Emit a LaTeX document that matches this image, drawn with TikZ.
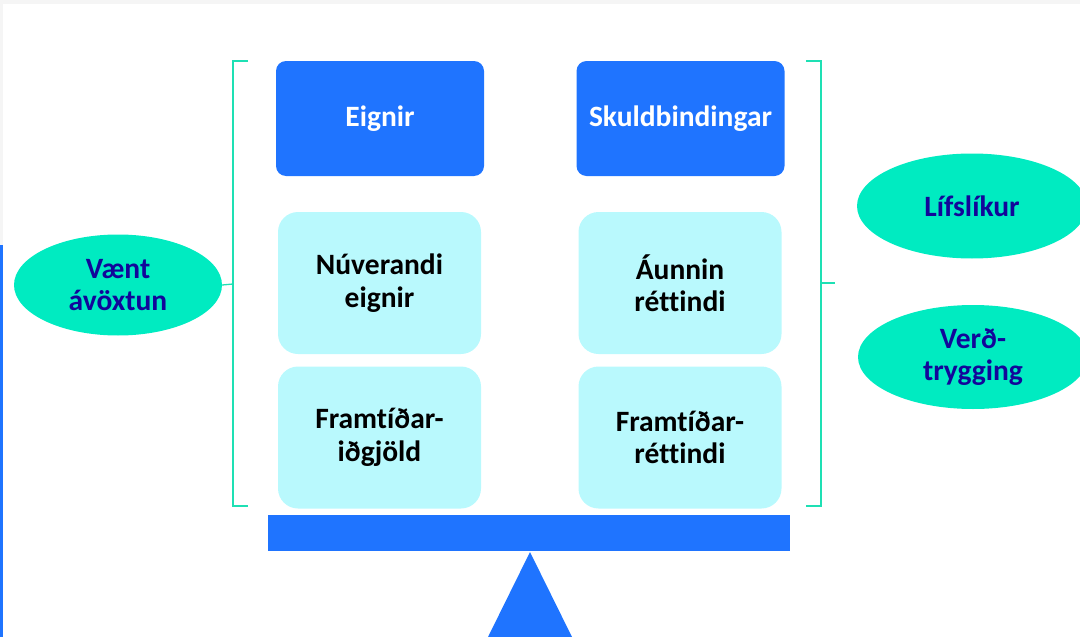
\documentclass[tikz,border=0pt]{standalone}
\usepackage{fontspec}
\setmainfont{Carlito}[Ligatures=NoCommon]
\usepackage{tikz}
\usetikzlibrary{shapes.geometric}

\definecolor{darkbox}{HTML}{1F74FF}
\definecolor{lightbox}{HTML}{B9F9FD}
\definecolor{tealfill}{HTML}{00EBC1}
\definecolor{navytext}{HTML}{12069A}
\definecolor{braceline}{HTML}{1EE0B4}

\begin{document}
\begin{tikzpicture}[x=1pt, y=-1pt,
			head node/.style={rectangle,rounded corners=10pt,fill=darkbox,text=white,minimum width=208pt,minimum height=115pt,align=center,font=\fontsize{29.5}{32.5}\selectfont\bfseries},
			part node/.style={rectangle,rounded corners=20pt,fill=lightbox,text=black,minimum width=203pt,minimum height=142pt,align=center,font=\fontsize{29.5}{32.5}\selectfont\bfseries},
			oval node/.style={ellipse,fill=tealfill,text=navytext,inner sep=0pt,align=center,font=\fontsize{29.5}{32.5}\selectfont\bfseries},
			brace/.style={draw=braceline,line width=1.3pt}]
			
			\useasboundingbox (0,0) rectangle (1080,637);
			\fill[black!4] (0,0) rectangle (1080,4);
			\fill[black!4] (0,0) rectangle (3,245);
			\fill[darkbox] (0,245) rectangle (3,637);
			
			\node[head node] (eignir) at (380,118.5) {Eignir};
			\node[head node] (skuld) at (680.5,118.5) {Skuldbindingar};
			\node[part node] (nuv) at (379.5,283) {Núverandi\\eignir};
			\node[part node] (aunn) at (680,283) {Áunnin\\réttindi};
			\node[part node] (fidg) at (379.5,437.5) {Framtíðar-\\iðgjöld};
			\node[part node] (fret) at (680,437.5) {Framtíðar-\\réttindi};
			
			\node[oval node,minimum width=208pt,minimum height=101pt] (vaent) at (118,285) {Vænt\\ávöxtun};
			\node[oval node,minimum width=230pt,minimum height=105pt] (lifs) at (972,206) {Lífslíkur};
			\node[oval node,minimum width=230pt,minimum height=104pt] (verd) at (973,357) {Verð-\\trygging};
			
			% balance
			\fill[darkbox] (268,515) rectangle (790,551);
			\fill[darkbox] (530,552) -- (572,637) -- (488,637) -- cycle;
			
			% braces
			\coordinate (lb) at (233,284);
			\coordinate (rb) at (821,283);
			\coordinate (rtip) at (835,283);
			\draw[brace] (248,61) -- (233,61) -- (233,506) -- (248,506);
			\draw[brace] (806,61) -- (821,61) -- (821,506) -- (806,506);
			\draw[brace] (lb) -- (vaent.east);
			\draw[brace] (rb) -- (rtip);
			\end{tikzpicture}
\end{document}
